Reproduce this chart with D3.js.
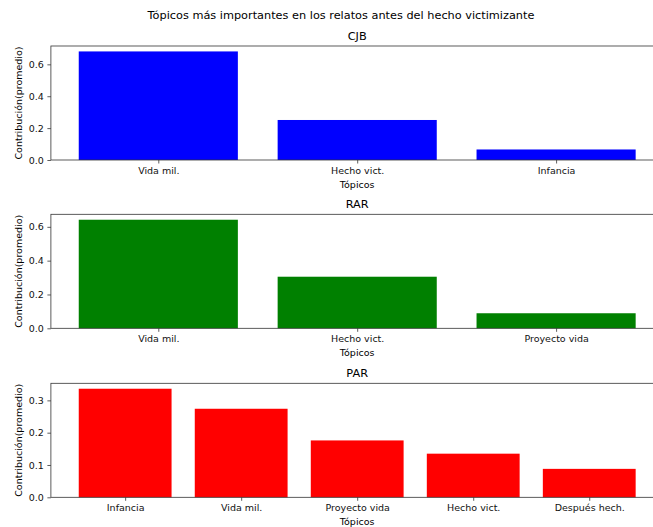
<!DOCTYPE html>
<html lang="es">
<head>
  <meta charset="UTF-8">
  <title>Tópicos</title>
  <script src="https://d3js.org/d3.v7.min.js"></script>
  <style>
  body{ margin:0; background:#fff; }
  svg text{ font-family: 'DejaVu Sans', sans-serif; fill:#000; }
  .suptitulo{ font-size:11.3px; }
  .tituloPanel{ font-size:11.3px; }
  .etiqueta{ font-size:9.5px; }
  .axis text{ font-size:9.5px; fill:#111; }
  .axis path, .axis line{ stroke:#333; stroke-width:0.8px; }
  .marco{ fill:none; stroke:#333; stroke-width:0.8px; }
  </style>
</head>
<body>
  <div id="grafico"></div>
  <script>
    var titulo = "Tópicos más importantes en los relatos antes del hecho victimizante";
    var grupos = ["CJB", "RAR", "PAR"];
    var colores = ["#0000ff", "#008000", "#ff0000"];

    var topicosCJB = ["Vida mil.", "Hecho vict.", "Infancia"];
    var valoresCJB = [0.681, 0.251, 0.066];
    var ticksCJB = [0.0, 0.2, 0.4, 0.6];

    var topicosRAR = ["Vida mil.", "Hecho vict.", "Proyecto vida"];
    var valoresRAR = [0.642, 0.305, 0.089];
    var ticksRAR = [0.0, 0.2, 0.4, 0.6];

    var topicosPAR = ["Infancia", "Vida mil.", "Proyecto vida", "Hecho vict.", "Después hech."];
    var valoresPAR = [0.336, 0.274, 0.176, 0.135, 0.088];
    var ticksPAR = [0.0, 0.1, 0.2, 0.3];

    var paneles = [
      {nombre: grupos[0], topicos: topicosCJB, valores: valoresCJB, ticks: ticksCJB, color: colores[0]},
      {nombre: grupos[1], topicos: topicosRAR, valores: valoresRAR, ticks: ticksRAR, color: colores[1]},
      {nombre: grupos[2], topicos: topicosPAR, valores: valoresPAR, ticks: ticksPAR, color: colores[2]}
    ];

    var w = 653, h = 527;
    var xIzq = 50.9, xDer = 663.5;   // el eje se sale por la derecha, como en el original
    var topes = [46, 214.3, 383.3];
    var altoEje = 114;

    var svg = d3.select("#grafico").append("svg")
      .attr("width", w).attr("height", h);

    svg.append("text").attr("class", "suptitulo")
      .attr("x", 341).attr("y", 19).attr("text-anchor", "middle")
      .text(titulo);

    paneles.forEach(function(p, k){
      var y0 = topes[k];
      var n = p.topicos.length;
      var margen = 0.05 * (n - 1 + 0.8);

      // escalas lineales como en matplotlib (ancho de barra 0.8)
      var x = d3.scaleLinear()
        .domain([-0.4 - margen, n - 1 + 0.4 + margen])
        .range([xIzq, xDer]);
      var y = d3.scaleLinear()
        .domain([0, d3.max(p.valores) * 1.05])
        .range([y0 + altoEje, y0]);

      var g = svg.append("g");

      g.selectAll("rect")
        .data(p.valores)
        .enter()
        .append("rect")
        .attr("x", function(d, i){ return x(i - 0.4); })
        .attr("width", function(d, i){ return x(i + 0.4) - x(i - 0.4); })
        .attr("y", function(d){ return y(d); })
        .attr("height", function(d){ return y(0) - y(d); })
        .attr("fill", p.color);

      g.append("rect").attr("class", "marco")
        .attr("x", xIzq).attr("y", y0)
        .attr("width", xDer - xIzq).attr("height", altoEje);

      var ejeX = d3.axisBottom(x)
        .tickValues(d3.range(n))
        .tickFormat(function(i){ return p.topicos[i]; })
        .tickSize(3.5).tickPadding(3.5).tickSizeOuter(0);
      g.append("g").attr("class", "axis")
        .attr("transform", "translate(0," + (y0 + altoEje) + ")")
        .call(ejeX)
        .call(function(s){ s.select(".domain").remove(); });

      var ejeY = d3.axisLeft(y)
        .tickValues(p.ticks)
        .tickFormat(d3.format(".1f"))
        .tickSize(3.5).tickPadding(3.5).tickSizeOuter(0);
      g.append("g").attr("class", "axis")
        .attr("transform", "translate(" + xIzq + ",0)")
        .call(ejeY)
        .call(function(s){ s.select(".domain").remove(); });

      g.append("text").attr("class", "tituloPanel")
        .attr("x", (xIzq + xDer) / 2).attr("y", y0 - 6)
        .attr("text-anchor", "middle")
        .text(p.nombre);

      g.append("text").attr("class", "etiqueta")
        .attr("x", (xIzq + xDer) / 2).attr("y", y0 + altoEje + 28)
        .attr("text-anchor", "middle")
        .text("Tópicos");

      g.append("text").attr("class", "etiqueta")
        .attr("transform", "translate(22," + (y0 + altoEje / 2) + ") rotate(-90)")
        .attr("text-anchor", "middle")
        .text("Contribución(promedio)");
    });
  </script>
</body>
</html>
